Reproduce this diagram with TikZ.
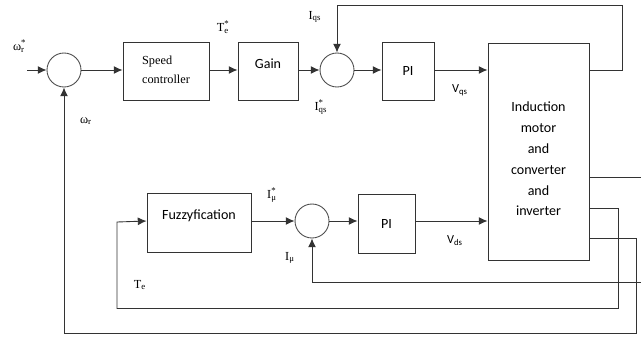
\documentclass[tikz,border=0pt]{standalone}
\usepackage{fontspec}
\setmainfont{Liberation Serif}
\newfontfamily\calibri{Carlito}
\usetikzlibrary{arrows.meta}
\newcommand{\subsup}[3]{#1\rlap{\textsuperscript{#3}}\textsubscript{#2}}
\begin{document}
\begin{tikzpicture}[x=0.02cm, y=-0.02cm,
			block/.style={draw=black!80, line width=0.5pt, minimum height=1.16cm},
			sum/.style={draw=black!70, line width=0.5pt, circle, minimum size=0.68cm, inner sep=0pt},
			line/.style={draw=black!80, line width=0.5pt},
			arrow/.style={line, -{Latex[length=5pt,width=4.5pt]}},
			label node/.style={font=\fontsize{7}{8}\selectfont, inner sep=0pt},
			sans text/.style={font=\calibri\fontsize{8}{11.9}\selectfont, align=center}
			]
			\useasboundingbox (0,0) rectangle (641,338);
			
			% upper row
			\node[sum] (sumw) at (64,70) {};
			\node[block, minimum width=1.72cm, align=left, font=\fontsize{7}{10.8}\selectfont] (speed) at (166,71) {\mbox{}\\[-7pt]Speed\\controller};
			\node[block, minimum width=1.2cm, sans text] (gain) at (268,71) {Gain\\[-4pt]\mbox{}};
			\node[sum] (sumq) at (337,70) {};
			\node[block, minimum width=1.04cm, sans text] (piq) at (408,71) {PI};
			\node[block, minimum width=2.02cm, minimum height=4.34cm, sans text] (motor) at (538.5,151.5)
				{\mbox{}\\[2pt]Induction\\motor\\and\\converter\\and\\inverter};
			
			% lower row
			\node[block, minimum width=2.08cm, minimum height=1.18cm, sans text] (fuzzy) at (199,222.5) {Fuzzyfication\\[-3.5pt]\mbox{}};
			\node[sum] (summu) at (312,221) {};
			\node[block, minimum width=1.14cm, minimum height=1.18cm, sans text] (pid) at (386.5,223.5) {PI};
			
			\coordinate (in) at (27,70);
			\coordinate (qtop) at (622,5);
			\coordinate (tbot) at (618.5,308.5);
			\coordinate (wbot) at (636,333);
			\coordinate (muin) at (641,282);
			\coordinate (out) at (641,177);
			
			\draw[arrow] (in) -- (sumw.west);
			\draw[arrow] (sumw.east) -- (speed.west |- sumw.east);
			\draw[arrow] (speed.east |- sumw.east) -- (gain.west |- sumw.east);
			\draw[arrow] (gain.east |- sumq.west) -- (sumq.west);
			\draw[arrow] (sumq.east) -- (piq.west |- sumq.east);
			\draw[arrow] (piq.east |- sumq.east) -- (motor.west |- sumq.east);
			
			\draw[arrow] (fuzzy.east |- summu.west) -- (summu.west);
			\draw[arrow] (summu.east) -- (pid.west |- summu.east);
			\draw[arrow] (pid.east |- summu.east) -- (motor.west |- summu.east);
			
			% feedback paths
			\draw[arrow] (motor.east |- sumq.east) -| (qtop) -| (sumq.north);
			\draw[arrow] (motor.east |- 0,208.5) -| (tbot) -| (117,222) -- (fuzzy.west |- summu.west);
			\draw[arrow] (motor.east |- 0,238) -| (wbot) -| (sumw.south);
			\draw[arrow] (muin) -| (summu.south);
			\draw[line] (motor.east |- out) -- (out);
			
			% signal labels
			\node[label node] (lwref) at (19,46) {\subsup{ω}{r}{*}};
			\node[label node] (lte) at (223,27) {\subsup{T}{e}{*}};
			\node[label node] (liqs) at (315,17) {I\textsubscript{qs}};
			\node[label node] (liqsref) at (321,107) {\subsup{I}{qs}{*}};
			\node[label node, font=\calibri\fontsize{7}{8}\selectfont] (lvqs) at (460,90) {V\textsubscript{qs}};
			\node[label node] (lw) at (86,121) {ω\textsubscript{r}};
			\node[label node] (lmuref) at (272,195) {\subsup{I}{μ}{*}};
			\node[label node] (lmu) at (290,258) {I\textsubscript{μ}};
			\node[label node, font=\calibri\fontsize{7}{8}\selectfont] (lvds) at (455,241) {V\textsubscript{ds}};
			\node[label node] (lt) at (140,285) {T\textsubscript{e}};
			
		\end{tikzpicture}
\end{document}
